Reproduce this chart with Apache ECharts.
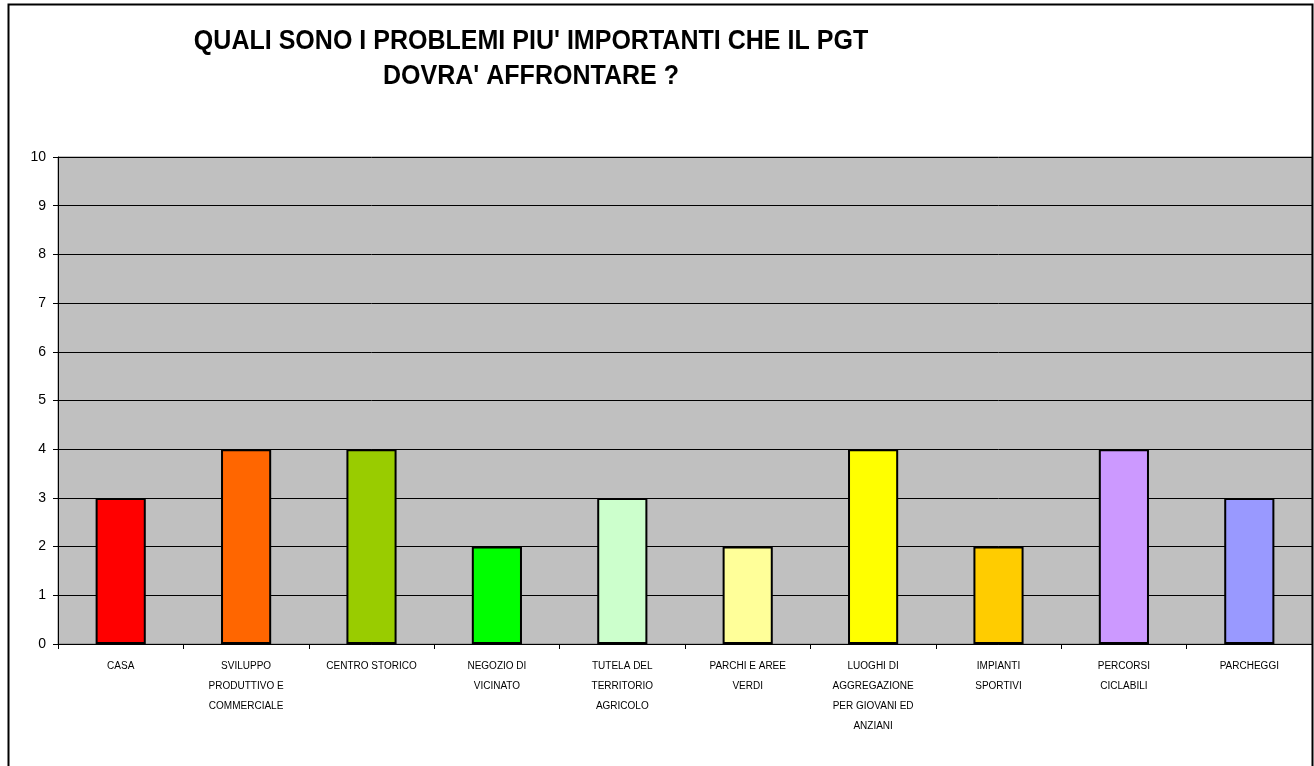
<!DOCTYPE html>
<html>
<head>
<meta charset="utf-8">
<script src="https://cdn.jsdelivr.net/npm/echarts@6/dist/echarts.min.js"></script>
<style>
html,body{margin:0;padding:0;background:#fff;}
#chart{width:1314px;height:766px;}
</style>
</head>
<body>
<div id="chart"></div>
<script>
const titleText = "QUALI SONO I PROBLEMI PIU' IMPORTANTI CHE IL PGT\nDOVRA' AFFRONTARE ?";
const categories = [
  "CASA",
  "SVILUPPO\nPRODUTTIVO E\nCOMMERCIALE",
  "CENTRO STORICO",
  "NEGOZIO DI\nVICINATO",
  "TUTELA DEL\nTERRITORIO\nAGRICOLO",
  "PARCHI E AREE\nVERDI",
  "LUOGHI DI\nAGGREGAZIONE\nPER GIOVANI ED\nANZIANI",
  "IMPIANTI\nSPORTIVI",
  "PERCORSI\nCICLABILI",
  "PARCHEGGI"
];
const values = [3, 4, 4, 2, 3, 2, 4, 2, 4, 3];
const barColors = ["#FF0000", "#FF6600", "#99CC00", "#00FF00", "#CCFFCC", "#FFFF99", "#FFFF00", "#FFCC00", "#CC99FF", "#9999FF"];
const yTicks = [0, 1, 2, 3, 4, 5, 6, 7, 8, 9, 10];

const chart = echarts.init(document.getElementById('chart'), null, {renderer: 'canvas'});
chart.setOption({
  animation: false,
  backgroundColor: '#fff',
  graphic: [
    {type: 'rect', silent: true, z: 100,
     shape: {x: 8.5, y: 4.5, width: 1304, height: 800},
     style: {fill: 'none', stroke: '#000', lineWidth: 2}},
    {type: 'text', x: 531, y: 24.5, z: 100, scaleX: 0.927,
     style: {text: titleText, fill: '#000', font: 'bold 27px "Liberation Sans", Arial, sans-serif',
             textAlign: 'center', lineHeight: 35}}
  ],
  grid: {left: 58, right: 2, top: 157, bottom: 122, show: true,
         backgroundColor: '#C0C0C0', borderColor: '#808080', borderWidth: 1},
  xAxis: {
    type: 'category', data: categories, boundaryGap: true,
    axisLine: {show: true, lineStyle: {color: '#000', width: 1}},
    axisTick: {show: true, length: 5, lineStyle: {color: '#000'}},
    axisLabel: {interval: 0, color: '#000', fontSize: 10, lineHeight: 20, margin: 12,
                fontFamily: '"Liberation Sans", Arial, sans-serif'}
  },
  yAxis: {
    type: 'value', min: 0, max: 10, interval: 1,
    axisLine: {show: true, lineStyle: {color: '#000', width: 1}},
    axisTick: {show: true, length: 5, lineStyle: {color: '#000'}},
    axisLabel: {color: '#000', fontSize: 14, margin: 12,
                fontFamily: '"Liberation Sans", Arial, sans-serif',
                formatter: v => yTicks.includes(v) ? String(v) : ''},
    splitLine: {show: true, lineStyle: {color: '#000', width: 1}}
  },
  series: [{
    type: 'bar', barWidth: '40%',
    data: values.map((v, i) => ({value: v, itemStyle: {color: barColors[i]}})),
    itemStyle: {borderColor: '#000', borderWidth: 2}
  }]
});
</script>
</body>
</html>
